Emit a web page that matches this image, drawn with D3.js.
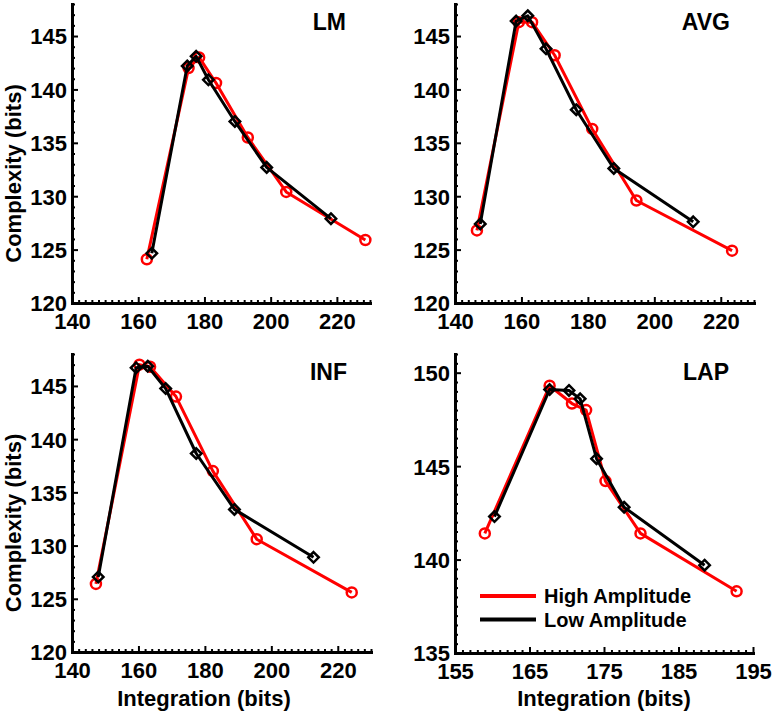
<!DOCTYPE html>
<html>
<head>
<meta charset="utf-8">
<script src="https://cdn.jsdelivr.net/npm/d3@7"></script>
<style>
  html, body { margin: 0; padding: 0; background: #fff; }
  svg { display: block; }
  text { font-family: Arial, "Liberation Sans", sans-serif; font-weight: bold; fill: #000; }
</style>
</head>
<body>
<svg id="chart" width="774" height="713"></svg>
<script>
// ---------------- data ----------------
const panelNames = ["LM", "AVG", "INF", "LAP"];
const seriesNames = ["High Amplitude", "Low Amplitude"];

// LM
const lmHighX = [162.6, 175.2, 178.4, 183.5, 193.1, 204.7, 228.6];
const lmHighY = [124.1, 142.0, 143.0, 140.6, 135.5, 130.4, 125.9];
const lmLowX  = [164.1, 174.8, 177.5, 181.2, 189.2, 198.8, 218.2];
const lmLowY  = [124.65, 142.2, 143.1, 140.9, 137.0, 132.7, 127.9];
// AVG
const avgHighX = [146.6, 159.2, 163.2, 170.0, 181.3, 194.6, 223.4];
const avgHighY = [126.8, 146.3, 146.3, 143.2, 136.3, 129.6, 124.9];
const avgLowX  = [147.6, 158.4, 161.9, 167.4, 176.5, 187.8, 211.7];
const avgLowY  = [127.4, 146.4, 146.9, 143.8, 138.1, 132.6, 127.6];
// INF
const infHighX = [147.2, 160.3, 163.5, 171.3, 182.4, 195.6, 224.2];
const infHighY = [126.4, 147.0, 146.8, 144.0, 137.0, 130.6, 125.6];
const infLowX  = [147.9, 159.3, 162.8, 168.2, 177.4, 188.9, 212.7];
const infLowY  = [127.05, 146.7, 146.85, 144.75, 138.65, 133.4, 128.9];
// LAP
const lapHighX = [159.0, 167.7, 170.7, 172.6, 175.2, 179.9, 192.8];
const lapHighY = [141.4, 149.3, 148.35, 148.0, 144.2, 141.4, 138.3];
const lapLowX  = [160.3, 167.7, 170.3, 171.8, 174.0, 177.7, 188.5];
const lapLowY  = [142.3, 149.1, 149.05, 148.6, 145.4, 142.8, 139.7];

// axis ticks
const xTicksA = [140, 160, 180, 200, 220];
const yTicksA = [120, 125, 130, 135, 140, 145];
const xTicksLAP = [155, 165, 175, 185, 195];
const yTicksLAP = [135, 140, 145, 150];

// ---------------- layout ----------------
const panels = [
  { name: "LM",  hx: lmHighX,  hy: lmHighY,  lx: lmLowX,  ly: lmLowY,
    xd: [140, 230], yd: [120, 148], xt: xTicksA, yt: yTicksA, xm: 2, ym: 1,
    left: 72, right: 370, top: 4, bottom: 303, ylab: true, xlab: false },
  { name: "AVG", hx: avgHighX, hy: avgHighY, lx: avgLowX, ly: avgLowY,
    xd: [140, 230], yd: [120, 148], xt: xTicksA, yt: yTicksA, xm: 2, ym: 1,
    left: 455, right: 754, top: 4, bottom: 303, ylab: false, xlab: false },
  { name: "INF", hx: infHighX, hy: infHighY, lx: infLowX, ly: infLowY,
    xd: [140, 230], yd: [120, 148], xt: xTicksA, yt: yTicksA, xm: 2, ym: 1,
    left: 72, right: 371, top: 354, bottom: 652, ylab: true, xlab: true },
  { name: "LAP", hx: lapHighX, hy: lapHighY, lx: lapLowX, ly: lapLowY,
    xd: [155, 195], yd: [135, 151], xt: xTicksLAP, yt: yTicksLAP, xm: 1, ym: 0.5,
    left: 455, right: 753, top: 354, bottom: 653, ylab: false, xlab: true, legend: true }
];

const RED = "#ff0000";
const BLACK = "#000000";

const svg = d3.select("#chart");

function range(a, b, step) {
  const out = [];
  for (let v = a; v <= b + 1e-9; v += step) out.push(+v.toFixed(4));
  return out;
}

panels.forEach(p => {
  const x = d3.scaleLinear().domain(p.xd).range([p.left, p.right]);
  const y = d3.scaleLinear().domain(p.yd).range([p.bottom, p.top]);
  const g = svg.append("g");

  // minor ticks
  const xMinor = range(p.xd[0], p.xd[1], p.xm).filter(v => !p.xt.includes(v));
  const yMinor = range(p.yd[0], p.yd[1], p.ym).filter(v => !p.yt.includes(v));

  const xMinorAxis = d3.axisBottom(x).tickValues(xMinor).tickSizeInner(-3).tickSizeOuter(0).tickFormat("");
  const yMinorAxis = d3.axisLeft(y).tickValues(yMinor).tickSizeInner(-3).tickSizeOuter(0).tickFormat("");
  const xAxis = d3.axisBottom(x).tickValues(p.xt).tickSizeInner(-6).tickSizeOuter(0).tickPadding(-2).tickFormat(d3.format("d"));
  const yAxis = d3.axisLeft(y).tickValues(p.yt).tickSizeInner(-6).tickSizeOuter(0).tickPadding(5).tickFormat(d3.format("d"));

  const gxm = g.append("g").attr("transform", `translate(0,${p.bottom})`).call(xMinorAxis);
  const gym = g.append("g").attr("transform", `translate(${p.left},0)`).call(yMinorAxis);
  const gx = g.append("g").attr("transform", `translate(0,${p.bottom})`).call(xAxis);
  const gy = g.append("g").attr("transform", `translate(${p.left},0)`).call(yAxis);

  [gxm, gym, gx, gy].forEach(a => {
    a.select(".domain").attr("stroke", "#000").attr("stroke-width", 3).attr("stroke-linecap", "square");
    a.selectAll(".tick line").attr("stroke", "#000").attr("stroke-width", 2);
  });
  gx.selectAll(".tick text").attr("dy", "1.25em").style("font-size", "22px").style("font-family", "Arial, 'Liberation Sans', sans-serif");
  gy.selectAll(".tick text").style("font-size", "22px").style("font-family", "Arial, 'Liberation Sans', sans-serif").attr("dy", "0.36em");

  // lines
  const line = d3.line().x(d => x(d[0])).y(d => y(d[1]));
  const high = p.hx.map((v, i) => [v, p.hy[i]]);
  const low = p.lx.map((v, i) => [v, p.ly[i]]);

  g.append("path").datum(high).attr("d", line).attr("fill", "none")
    .attr("stroke", RED).attr("stroke-width", 3).attr("stroke-linejoin", "round");
  g.selectAll(".hm").data(high).enter().append("circle")
    .attr("cx", d => x(d[0])).attr("cy", d => y(d[1])).attr("r", 5)
    .attr("fill", "none").attr("stroke", RED).attr("stroke-width", 2.5);

  g.append("path").datum(low).attr("d", line).attr("fill", "none")
    .attr("stroke", BLACK).attr("stroke-width", 3).attr("stroke-linejoin", "round");
  const diamond = d3.symbol().type(d3.symbolDiamond2).size(70);
  g.selectAll(".lm").data(low).enter().append("path")
    .attr("transform", d => `translate(${x(d[0])},${y(d[1])})`)
    .attr("d", diamond)
    .attr("fill", "none").attr("stroke", BLACK).attr("stroke-width", 2.5);

  // title
  g.append("text").attr("x", p.right - 24).attr("y", p.top + 26)
    .attr("text-anchor", "end").style("font-size", "23px").text(p.name);

  if (p.ylab) {
    const cy = (p.top + p.bottom) / 2 + 20;
    g.append("text").attr("transform", `translate(21,${cy}) rotate(-90)`)
      .attr("text-anchor", "middle").style("font-size", "22px").text("Complexity (bits)");
  }
  if (p.xlab) {
    const cx = p.name === "INF" ? 204 : (p.left + p.right) / 2;
    g.append("text").attr("x", cx).attr("y", 706)
      .attr("text-anchor", "middle").style("font-size", "22px").text("Integration (bits)");
  }
  if (p.legend) {
    const items = [{ label: seriesNames[0], color: RED }, { label: seriesNames[1], color: BLACK }];
    const lg = g.append("g");
    items.forEach((it, i) => {
      const yy = 596 + i * 23.5;
      lg.append("line").attr("x1", 480).attr("x2", 536).attr("y1", yy).attr("y2", yy)
        .attr("stroke", it.color).attr("stroke-width", 4);
      lg.append("text").attr("x", 544).attr("y", yy + 7).style("font-size", "20px").text(it.label);
    });
  }
});
</script>
</body>
</html>
